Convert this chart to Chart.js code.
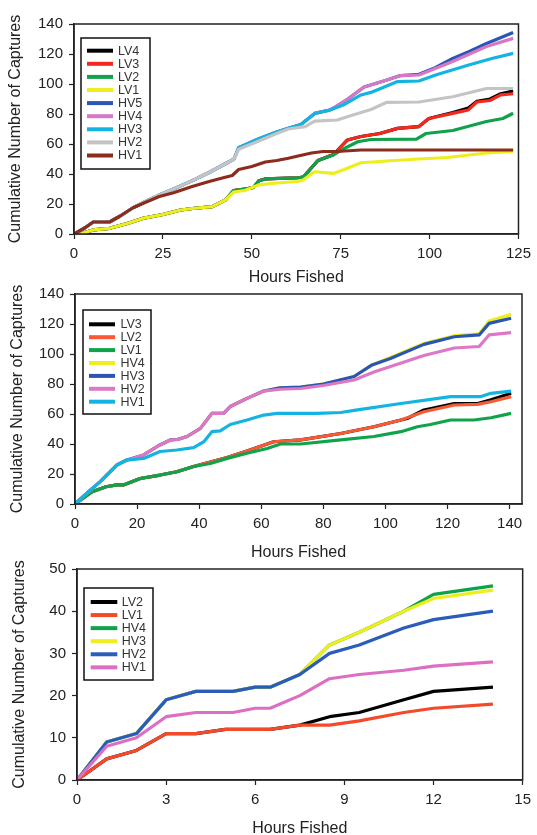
<!DOCTYPE html>
<html><head><meta charset="utf-8">
<script src="https://cdn.jsdelivr.net/npm/chart.js@4/dist/chart.umd.min.js"></script>
<style>
html,body{margin:0;padding:0;background:#fff;overflow:hidden;width:537px;height:835px;position:relative;}
canvas{position:absolute;left:0;display:block;}
</style></head><body>
<canvas id="c1" width="537" height="289" style="top:0px"></canvas>
<canvas id="c2" width="537" height="294" style="top:270px"></canvas>
<canvas id="c3" width="537" height="295" style="top:545px"></canvas>
<script>
// ---------- Panel 1 ----------
const p1Names = ['LV4','LV3','LV2','LV1','HV5','HV4','HV3','HV2','HV1'];
const p1Colors = ['#000000','#f5281e','#10a24a','#eeee1e','#2a55b5','#d877c6','#14b4e0','#c4c4c4','#8c2c1c'];
const p1XTicks = [0, 25, 50, 75, 100, 125];
const p1YTicks = [0, 20, 40, 60, 80, 100, 120, 140];
const p1HV1 = [[0,0],[3,4],[5.4,8],[10,8],[13,12],[16.6,17.5],[20,21],[24,25],[28,27.5],[33,31.5],[38,35],[42,37.5],[44.5,39],[46.3,43],[50,45],[53.8,48],[57,49],[60.3,50.5],[63,52],[66.8,54],[70,55],[74,55],[80.7,56],[123.5,56]];
const p1HV2 = [[0,0],[3,4],[5.4,8],[10,8],[13,12],[16.6,17.5],[20,21.5],[24,26],[28,30],[33.3,35.6],[38,41],[43.5,48],[45,50],[46.3,56.5],[52,62],[57,67],[60.3,70],[65,71.6],[67.7,75.3],[74,76],[78,79],[83.5,83],[88,87.8],[97,88],[106.5,91.5],[116,97],[123.5,97]];
const p1HV3 = [[0,0],[3,4],[5.4,8],[10,8],[13,12],[16.6,17.5],[20,21.5],[24,26],[28,30],[33.3,35.6],[38,41],[43.5,48],[45,50],[46.3,57.5],[52,63.5],[57,68],[60.3,70.5],[63.8,73],[67.7,80.4],[72,82.7],[75.7,86],[80.7,92.7],[83.5,94.4],[91,101.6],[97,102],[101.7,106],[111,112.7],[117.5,117],[123.5,120.4]];
const p1HV4 = [[0,0],[3,4],[5.4,8],[10,8],[13,12],[16.6,17.5],[20,21.5],[24,26],[28,30],[33.3,35.6],[38,41],[43.5,48],[45,50],[46.3,57.5],[52,63.5],[57,68],[60.3,70.5],[63.8,73],[67.7,80.4],[72,82.7],[73,84],[77,90],[81.6,98],[88,102.7],[91.8,105.6],[97,106],[106.5,115],[116,125],[123.5,130.4]];
const p1HV5 = [[0,0],[3,4],[5.4,8],[10,8],[13,12],[16.6,17.5],[20,21.5],[24,26],[28,30],[33.3,35.6],[38,41],[43.5,48],[45,50],[46.3,57.5],[52,63.5],[57,68],[60.3,70.5],[63.8,73],[67.7,80.4],[72,82.7],[73,84],[77,90],[81.6,98],[88,102.7],[91.8,105.6],[97,106.5],[101.7,111],[106.5,117],[111,121.5],[116,127],[123.5,134.4]];
const p1LV1 = [[0,0],[3,1],[5.4,2.7],[10,3.8],[15,7],[19.3,10.4],[25,13],[30,16],[33.3,17],[38.9,18.2],[42.6,22.7],[44.9,28],[48,29],[51.9,32.7],[57,34],[63,35],[64.4,36],[67.7,41.5],[73,40.4],[76,43],[80.7,47.5],[90,49],[97,50],[105,51],[116,54],[123.5,55]];
const p1LV2 = [[0,0],[3,1],[5.4,2.7],[10,3.8],[15,7],[19.3,10.4],[25,13],[30,16],[33.3,17],[38.9,18.2],[42.6,22.7],[44.9,29],[48,30],[50.5,31],[52,35.5],[53.8,36.7],[63,37.5],[64.5,38],[68.6,49],[73,52.7],[76,57],[79.8,61.5],[83.5,63],[96.3,63.3],[99,67],[106.5,69],[116,75],[120.6,77],[123.5,80.5]];
const p1LV3 = [[0,0],[3,1],[5.4,2.7],[10,3.8],[15,7],[19.3,10.4],[25,13],[30,16],[33.3,17],[38.9,18.2],[42.6,22.7],[44.9,29],[48,30],[50.5,31],[52,35.5],[53.8,36.7],[63,37.5],[64.5,38],[68.6,49],[73,53],[76.9,62.7],[80.7,65],[86,67],[91,70.4],[97,71.6],[99.8,77],[106.5,80.4],[110.9,82.7],[113.3,88],[117,89],[120,92.7],[123.5,93.5]];
const p1LV4 = [[0,0],[3,1],[5.4,2.7],[10,3.8],[15,7],[19.3,10.4],[25,13],[30,16],[33.3,17],[38.9,18.2],[42.6,22.7],[44.9,29],[48,30],[50.5,31],[52,35.5],[53.8,36.7],[63,37.5],[64.5,38],[68.6,49],[73,53],[76.9,62.7],[80.7,65],[86,67],[91,70.4],[97,71.6],[99.8,77],[106.5,81],[110.9,84],[113.3,88.5],[117,90],[120,93.5],[123.5,95.3]];

// ---------- Panel 2 ----------
const p2Names = ['LV3','LV2','LV1','HV4','HV3','HV2','HV1'];
const p2Colors = ['#000000','#f85a35','#10a44a','#eeee1e','#2a55b5','#dd77c6','#14b4e0'];
const p2XTicks = [0, 20, 40, 60, 80, 100, 120, 140];
const p2YTicks = [0, 20, 40, 60, 80, 100, 120, 140];
const p2HV1 = [[0,0],[4,7.5],[8.1,14.9],[13.5,26],[16.7,29.3],[22.1,30.4],[27.4,35],[32.8,36],[38.2,37.6],[41.5,41.5],[44.1,48.2],[46.8,48.7],[50,53],[55.4,56],[60.8,59.3],[65.1,60.4],[78,60.4],[85.6,61],[91,62.7],[105,67],[121,71.6],[130.8,71.6],[134,73.8],[140.5,75.3]];
const p2HV2 = [[0,0],[4,7.5],[8.1,14.9],[13.5,26],[16.7,29.3],[22.1,32.7],[27,39],[30.7,42.7],[33,43],[36.1,45],[40.4,50.4],[44.1,60.4],[47.9,60.4],[50,65],[55.4,70.4],[60.8,75.3],[66,76.5],[72.7,77],[80,79],[89.9,82.7],[96.3,88],[112.4,99],[122.2,104],[130.2,105],[133.4,112.7],[140.5,114.2]];
const p2HV3 = [[0,0],[4,7.5],[8.1,14.9],[13.5,26],[16.7,29.3],[22.1,32.7],[27,39],[30.7,42.7],[33,43],[36.1,45],[40.4,50.4],[44.1,60.4],[47.9,60.4],[50,65],[55.4,70.4],[60.8,75.3],[66,77.5],[72.7,78],[80,80],[89.9,85],[95.7,92.7],[101.6,97],[112.4,106.4],[122.2,111.5],[130.2,112.7],[133.4,120.4],[140.5,123.8]];
const p2HV4 = [[0,0],[4,7.5],[8.1,14.9],[13.5,26],[16.7,29.3],[22.1,32.7],[27,39],[30.7,42.7],[33,43],[36.1,45],[40.4,50.4],[44.1,60.4],[47.9,60.4],[50,65],[55.4,70.4],[60.8,75.3],[66,77.5],[72.7,78],[80,80],[89.9,85],[95.7,92.7],[101.6,97.6],[112.4,107],[122.2,112.2],[130.2,113.4],[133.4,122],[140.5,126.4]];
const p2LV1 = [[0,0],[5.5,8.2],[10,11.5],[13.5,12.7],[15.6,12.7],[21,17],[27.4,19.3],[32.8,21.5],[38.2,25],[43.6,27],[49,30.4],[55.4,33.8],[61.9,37],[66.2,40],[72.7,40],[85.6,42.7],[96.3,45],[105,48.2],[110.3,51.5],[114.5,53],[121,56],[128.5,56],[134,57.5],[140.5,60.4]];
const p2LV2 = [[0,0],[5.5,8.2],[10,11.5],[13.5,12.7],[15.6,12.7],[21,17],[27.4,19.3],[32.8,21.5],[38.2,25],[43.6,28],[49,31],[55.4,35.3],[64,41.5],[72.7,42.7],[85.6,47],[96.3,51.5],[105,56],[112.4,61.5],[122.2,66],[129.7,66.4],[134,68.2],[140.5,71.6]];
const p2LV3 = [[0,0],[5.5,8.2],[10,11.5],[13.5,12.7],[15.6,12.7],[21,17],[27.4,19.3],[32.8,21.5],[38.2,25],[43.6,28],[49,31],[55.4,35.3],[64,41.5],[72.7,42.7],[85.6,47],[96.3,51.5],[105,56],[107,57],[112.4,62.7],[122.2,67],[129.7,67],[134,69.5],[140.5,73.8]];

// ---------- Panel 3 ----------
const p3Names = ['LV2','LV1','HV4','HV3','HV2','HV1'];
const p3Colors = ['#000000','#f44a2c','#10a24a','#eeee1e','#2a5cba','#dc6fc4'];
const p3XTicks = [0, 3, 6, 9, 12, 15];
const p3YTicks = [0, 10, 20, 30, 40, 50];
const p3HV1 = [[0,0],[1,8],[2,10],[3,15],[4,16],[5.25,16],[6,17],[6.5,17],[7.5,20],[8.5,24],[9.5,25],[11,26],[12,27],[14,28]];
const p3HV2 = [[0,0],[1,9],[2,11],[3,19],[4,21],[5.25,21],[6,22],[6.5,22],[7.5,25],[8.5,30],[9.5,32],[11,36],[12,38],[14,40]];
const p3HV3 = [[0,0],[1,9],[2,11],[3,19],[4,21],[5.25,21],[6,22],[6.5,22],[7.5,25],[8.5,32],[9.5,35],[11,40],[12,43],[14,45]];
const p3HV4 = [[0,0],[1,9],[2,11],[3,19],[4,21],[5.25,21],[6,22],[6.5,22],[7.5,25],[8.5,32],[9.5,35],[11,40],[12,44],[14,46]];
const p3LV1 = [[0,0],[1,5],[2,7],[3,11],[4,11],[5,12],[6.5,12],[7.5,13],[8.5,13],[9.5,14],[11,16],[12,17],[14,18]];
const p3LV2 = [[0,0],[1,5],[2,7],[3,11],[4,11],[5,12],[6.5,12],[7.5,13],[8.5,15],[9.5,16],[11,19],[12,21],[14,22]];

const INK = '#222222';
const FONT = '"Liberation Sans", Arial, sans-serif';

const framePlugin = {
  id: 'frameLegend',
  afterDatasetsDraw(chart, args, opts) {
    const {ctx, chartArea: a} = chart;
    ctx.save();
    ctx.strokeStyle = INK; ctx.lineWidth = 1.5;
    ctx.strokeRect(a.left, a.top, a.right - a.left, a.bottom - a.top);
    const L = opts;
    const bx = a.left + L.bx, by = a.top + L.by;
    ctx.lineWidth = 1.5; ctx.strokeStyle = '#111';
    ctx.strokeRect(bx, by, L.bw, L.bh);
    ctx.font = '12.5px ' + FONT;
    ctx.textBaseline = 'middle'; ctx.textAlign = 'left';
    chart.data.datasets.forEach((d, i) => {
      const y = a.top + L.first + i * L.step;
      ctx.strokeStyle = d.borderColor; ctx.lineWidth = 4; ctx.lineCap = 'butt';
      ctx.beginPath(); ctx.moveTo(a.left + L.l1, y); ctx.lineTo(a.left + L.l2, y); ctx.stroke();
      ctx.fillStyle = '#333';
      ctx.fillText(d.label, a.left + L.tx, y + 0.5);
    });
    ctx.restore();
  }
};

function makePanel(id, names, colors, series, xTicks, yTicks, xMax, g) {
  const datasets = series.map((s, i) => ({
    label: names[i],
    data: s.map(p => ({x: p[0], y: p[1]})),
    borderColor: colors[i], backgroundColor: colors[i],
    borderWidth: 3.2, pointRadius: 0, tension: 0, fill: false,
    borderJoinStyle: 'round', borderCapStyle: 'butt',
    order: series.length - 1 - i
  }));
  const xStep = xTicks[1] - xTicks[0], yStep = yTicks[1] - yTicks[0];
  new Chart(document.getElementById(id), {
    type: 'line',
    data: {datasets},
    plugins: [framePlugin],
    options: {
      responsive: false, animation: false, devicePixelRatio: 1,
      layout: {padding: {left: 0, right: g.padR, top: g.padT, bottom: 0}},
      plugins: {legend: {display: false}, tooltip: {enabled: false}, frameLegend: g.legend},
      scales: {
        x: {
          type: 'linear', min: xTicks[0], max: xMax,
          ticks: {stepSize: xStep, includeBounds: false, autoSkip: false, maxRotation: 0,
                  font: {family: FONT, size: 15}, color: INK, padding: g.xTickPad},
          grid: {drawOnChartArea: false, drawTicks: true, tickLength: 5, tickColor: INK, tickWidth: 1.2},
          border: {display: true, color: INK, width: 1.5},
          title: {display: true, text: 'Hours Fished', font: {family: FONT, size: 16}, color: INK,
                  padding: {top: 0, bottom: g.xTitlePad}},
          afterFit: s => { s.height = g.xH; }
        },
        y: {
          type: 'linear', min: yTicks[0], max: yTicks[yTicks.length - 1],
          ticks: {stepSize: yStep, font: {family: FONT, size: 15}, color: INK, padding: 6},
          grid: {drawOnChartArea: false, drawTicks: true, tickLength: 5, tickColor: INK, tickWidth: 1.2},
          border: {display: true, color: INK, width: 1.5},
          title: {display: true, text: 'Cumulative Number of Captures', font: {family: FONT, size: 16}, color: INK,
                  padding: {top: g.yTitlePad, bottom: 0}},
          afterFit: s => { s.width = g.yW; }
        }
      }
    }
  });
}

makePanel('c1', p1Names, p1Colors, [p1LV4, p1LV3, p1LV2, p1LV1, p1HV5, p1HV4, p1HV3, p1HV2, p1HV1],
  p1XTicks, p1YTicks, 125,
  {padR: 15, padT: 24, yW: 74, xH: 55, xTickPad: 6, xTitlePad: 2, yTitlePad: 6,
   legend: {bx: 7, by: 14, bw: 69, bh: 131, first: 26.7, step: 13.1, l1: 13, l2: 39, tx: 44}});

makePanel('c2', p2Names, p2Colors, [p2LV3, p2LV2, p2LV1, p2HV4, p2HV3, p2HV2, p2HV1],
  p2XTicks, p2YTicks, 144,
  {padR: 15, padT: 24, yW: 75, xH: 60, xTickPad: 6, xTitlePad: 2, yTitlePad: 8,
   legend: {bx: 8, by: 16, bw: 68, bh: 104, first: 30.3, step: 12.9, l1: 14, l2: 40, tx: 45.5}});

makePanel('c3', p3Names, p3Colors, [p3LV2, p3LV1, p3HV4, p3HV3, p3HV2, p3HV1],
  p3XTicks, p3YTicks, 15,
  {padR: 11, padT: 24, yW: 77, xH: 60, xTickPad: 6, xTitlePad: 2, yTitlePad: 10,
   legend: {bx: 7, by: 19, bw: 69, bh: 92, first: 33, step: 13.07, l1: 13.7, l2: 40.3, tx: 44.7}});
</script>
</body></html>
